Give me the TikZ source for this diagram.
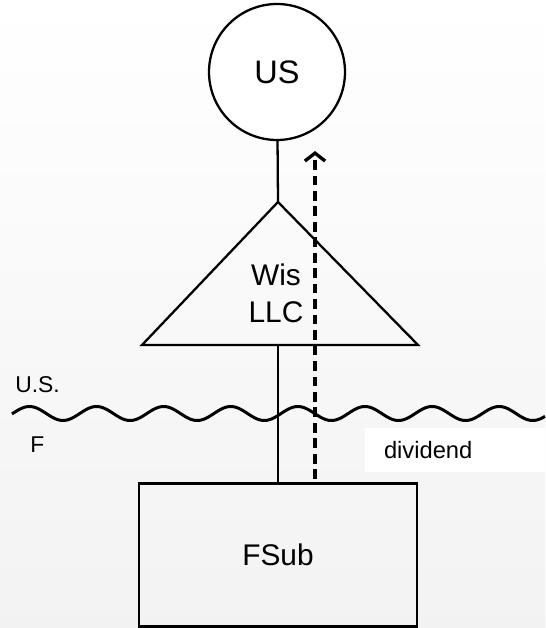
\documentclass[tikz,border=0pt]{standalone}
\usepackage{fontspec}
\setmainfont{Liberation Sans}
\usetikzlibrary{arrows.meta, positioning}

\begin{document}
\begin{tikzpicture}[
    x=0.02cm, y=-0.02cm,
    entity/.style={circle, draw=black, fill=white, line width=1.3pt, minimum size=2.72cm, inner sep=0pt, font=\fontsize{18.5}{22}\selectfont},
    subsid/.style={rectangle, draw=black, line width=1.3pt, minimum width=5.56cm, minimum height=2.86cm, inner sep=0pt, font=\fontsize{17}{20}\selectfont},
    owner/.style={draw=black, line width=1.3pt},
    flow/.style={-{Straight Barb[length=4.5pt, width=11.5pt, line width=1.9pt]}, line width=2.2pt, dash pattern=on 5.5pt off 3.3pt},
    side/.style={font=\fontsize{13}{15}\selectfont, anchor=west, inner sep=0pt}
]

% Background
\shade[top color=white, bottom color=black!5] (0,0) rectangle (545,628);
\useasboundingbox (0,0) rectangle (545,628);

% US parent
\node[entity] (us) at (277,72) {US};

% Wis LLC
\coordinate (wistop) at (278,202);
\coordinate (wisleft) at (142,345);
\coordinate (wisright) at (418,345);
\coordinate (wisbase) at (278,345);
\draw[owner, line join=miter] (wistop) -- (wisleft) -- (wisright) -- cycle;
\node[font=\fontsize{17}{21}\selectfont, align=center] (wis) at (276,293) {Wis\\LLC};

% Border
\draw[line width=1.7pt, domain=12:545, samples=260, smooth]
    plot (\x, {413.5+7*cos(5.365*(\x-63))});
\node[side] (us_side) at (15,385) {U.S.};
\node[side] (f_side) at (30,445) {F};

% Dividend label
\node[fill=white, minimum width=3.6cm, minimum height=0.88cm, text width=2.84cm,
      inner xsep=0.38cm, align=left, font=\fontsize{13.5}{16}\selectfont] (div) at (455,450) {dividend};

% FSub
\node[subsid] (fsub) at (278,555) {FSub};

% Ownership lines
\draw[owner] (us) -- (wistop);
\draw[owner] (wisbase) -- (fsub.north);

% Dividend flow
\coordinate (divbot) at (315,479);
\coordinate (divtop) at (315,151);
\draw[flow] (divbot) -- (divtop);

\end{tikzpicture}
\end{document}
